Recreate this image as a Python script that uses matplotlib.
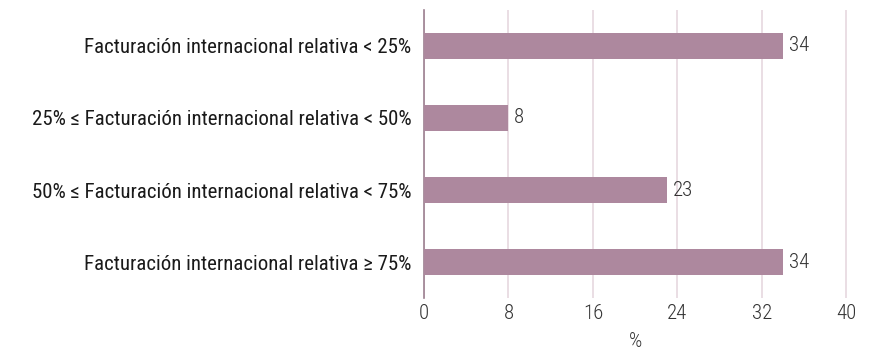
import matplotlib
import matplotlib.pyplot as plt

matplotlib.use("Agg")

categories = [
    "Facturación internacional relativa < 25%",
    "25% \u2264 Facturación internacional relativa < 50%",
    "50% \u2264 Facturación internacional relativa < 75%",
    "Facturación internacional relativa \u2265 75%",
]
values = [34, 8, 23, 34]
xticks = [0, 8, 16, 24, 32, 40]

plt.rcParams["font.family"] = ["Roboto Condensed", "DejaVu Sans"]

BAR = "#AD889E"
GRID = "#E6D8DF"
AXIS = "#9C8090"
FS = 15

fig = plt.figure(figsize=(8.71, 3.52), dpi=100)
ax = fig.add_axes([0.4868, 0.1534, 0.4856, 0.8182])

pos = list(range(len(categories)))
ax.barh(pos, values, height=0.36, color=BAR, zorder=3)
for p, v in zip(pos, values):
    ax.text(v + 0.55, p, f"{v}", va="center", ha="left", fontsize=FS, color="#333333",
            fontweight="light")

ax.set_ylim(len(categories) - 0.5, -0.5)
ax.set_xlim(0, 40.05)
ax.set_xticks(xticks)
ax.set_yticks(pos)
ax.set_yticklabels(categories, fontsize=FS, color="#1a1a1a")
ax.tick_params(axis="x", labelsize=FS, labelcolor="#333333", length=0, pad=4)
for lab in ax.get_xticklabels():
    lab.set_fontweight("light")
ax.tick_params(axis="y", length=0, pad=9)
ax.grid(axis="x", color=GRID, linewidth=1.2, zorder=0)
for s in ["top", "right", "bottom"]:
    ax.spines[s].set_visible(False)
ax.spines["left"].set_color(AXIS)
ax.spines["left"].set_linewidth(1.2)
ax.set_xlabel("%", fontsize=FS, color="#333333", labelpad=7, fontweight="light")

fig.savefig("out.png", dpi=100)
